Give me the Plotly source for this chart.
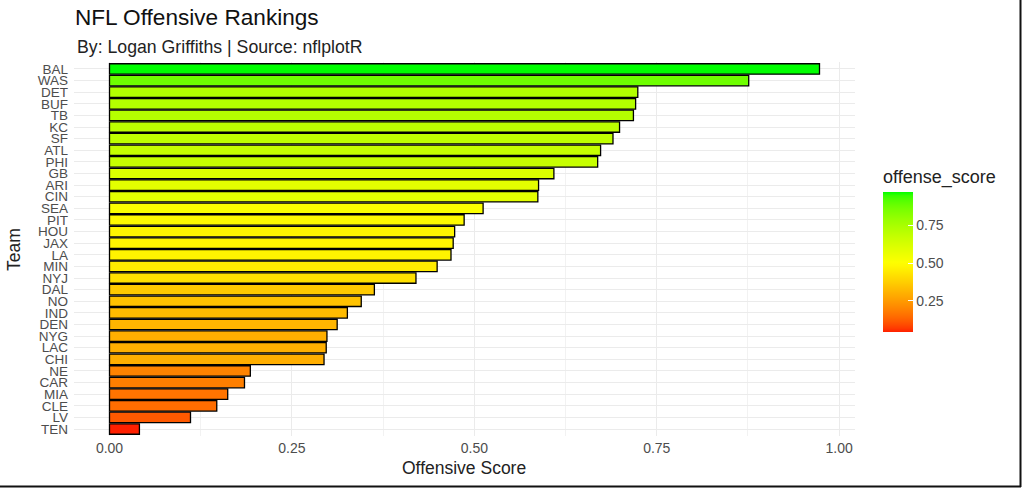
import plotly.graph_objects as go
import numpy as np

# ---- data ----
teams = ["BAL", "WAS", "DET", "BUF", "TB", "KC", "SF", "ATL", "PHI", "GB",
         "ARI", "CIN", "SEA", "PIT", "HOU", "JAX", "LA", "MIN", "NYJ", "DAL",
         "NO", "IND", "DEN", "NYG", "LAC", "CHI", "NE", "CAR", "MIA", "CLE",
         "LV", "TEN"]
offense_score = [0.973, 0.876, 0.724, 0.721, 0.718, 0.699, 0.690, 0.673, 0.669, 0.609,
                 0.588, 0.587, 0.512, 0.486, 0.473, 0.471, 0.468, 0.449, 0.420, 0.363,
                 0.345, 0.326, 0.312, 0.298, 0.297, 0.294, 0.193, 0.185, 0.162, 0.147,
                 0.111, 0.041]
x_ticks = [0.0, 0.25, 0.5, 0.75, 1.0]
x_tick_labels = ["0.00", "0.25", "0.50", "0.75", "1.00"]
cbar_ticks = [0.25, 0.5, 0.75]
cbar_tick_labels = ["0.25", "0.50", "0.75"]

# ---- gradient2 (red - yellow - green, midpoint 0.5) in Lab space ----
def srgb_to_lab(rgb):
    c = np.array(rgb, dtype=float) / 255.0
    c = np.where(c > 0.04045, ((c + 0.055) / 1.055) ** 2.4, c / 12.92)
    M = np.array([[0.4124564, 0.3575761, 0.1804375],
                  [0.2126729, 0.7151522, 0.0721750],
                  [0.0193339, 0.1191920, 0.9503041]])
    xyz = M @ c
    wp = np.array([0.95047, 1.0, 1.08883])
    f = xyz / wp
    f = np.where(f > 216 / 24389, np.cbrt(f), (24389 / 27 * f + 16) / 116)
    return np.array([116 * f[1] - 16, 500 * (f[0] - f[1]), 200 * (f[1] - f[2])])

def lab_to_srgb(lab):
    L, a, b = lab
    fy = (L + 16) / 116
    fx = fy + a / 500
    fz = fy - b / 200
    e = 216 / 24389
    k = 24389 / 27
    xr = fx ** 3 if fx ** 3 > e else (116 * fx - 16) / k
    yr = fy ** 3 if L > k * e else L / k
    zr = fz ** 3 if fz ** 3 > e else (116 * fz - 16) / k
    wp = np.array([0.95047, 1.0, 1.08883])
    xyz = np.array([xr, yr, zr]) * wp
    Minv = np.array([[3.2404542, -1.5371385, -0.4985314],
                     [-0.9692660, 1.8760108, 0.0415560],
                     [0.0556434, -0.2040259, 1.0572252]])
    c = Minv @ xyz
    c = np.clip(c, 0, 1)
    c = np.where(c > 0.0031308, 1.055 * c ** (1 / 2.4) - 0.055, 12.92 * c)
    return tuple(int(round(v * 255)) for v in np.clip(c, 0, 1))

LOW, MID, HIGH = srgb_to_lab((255, 0, 0)), srgb_to_lab((255, 255, 0)), srgb_to_lab((0, 255, 0))
vmin, vmax = min(offense_score), max(offense_score)
midpoint = 0.5
dev = max(abs(vmin - midpoint), abs(vmax - midpoint))

def colour_of(v):
    t = (v - midpoint) / dev * 0.5 + 0.5
    if t <= 0.5:
        s = t / 0.5
        lab = LOW + (MID - LOW) * s
    else:
        s = (t - 0.5) / 0.5
        lab = MID + (HIGH - MID) * s
    r, g, b = lab_to_srgb(lab)
    return f"rgb({r},{g},{b})"

colorscale = []
for p in np.linspace(0, 1, 41):
    v = vmin + p * (vmax - vmin)
    colorscale.append([float(p), colour_of(v)])

FONT = "Liberation Sans, Arial, Helvetica, sans-serif"
W, H = 1022, 488
ml, mr, mt, mb = 74, 167, 62, 52
pw, ph = W - ml - mr, H - mt - mb

def px_x(px):
    return (px - ml) / pw

def px_y(py):
    return (H - mb - py) / ph

fig = go.Figure()
fig.add_trace(go.Bar(
    x=offense_score,
    y=teams,
    orientation="h",
    width=0.9,
    marker=dict(
        color=offense_score,
        coloraxis="coloraxis",
        line=dict(color="#000000", width=1.3),
    ),
    hovertemplate="%{y}: %{x:.3f}<extra></extra>",
))

rng = vmax - 0
fig.update_layout(
    width=W, height=H,
    margin=dict(l=ml, r=mr, t=mt, b=mb, autoexpand=False),
    paper_bgcolor="white",
    plot_bgcolor="white",
    font=dict(family=FONT, color="#4D4D4D"),
    showlegend=False,
    bargap=0.1,
    title=dict(
        text="NFL Offensive Rankings",
        x=px_x(75), xref="paper", xanchor="left",
        y=1 - 17 / H, yref="container", yanchor="middle",
        font=dict(family=FONT, size=22.6, color="#111111"),
    ),
    xaxis=dict(
        range=[0 - 0.05 * rng, vmax + 0.05 * rng],
        tickvals=x_ticks,
        ticktext=x_tick_labels,
        showgrid=True, gridcolor="#EBEBEB", gridwidth=1.1,
        minor=dict(showgrid=True, gridcolor="#F2F2F2", gridwidth=0.6, dtick=0.125, tick0=0.125),
        zeroline=False, showline=False,
        ticks="", ticklen=0,
        ticklabelstandoff=2,
        tickfont=dict(family=FONT, size=14, color="#4D4D4D"),
        fixedrange=True,
    ),
    yaxis=dict(
        categoryorder="array",
        categoryarray=teams[::-1],
        tickmode="array",
        tickvals=teams,
        ticktext=teams,
        range=[-0.6, len(teams) - 0.4],
        showgrid=True, gridcolor="#EBEBEB", gridwidth=1.1,
        zeroline=False, showline=False,
        ticks="", ticklen=0,
        ticklabelstandoff=5,
        tickfont=dict(family=FONT, size=13.5, color="#4D4D4D"),
        fixedrange=True,
    ),
    coloraxis=dict(
        colorscale=colorscale,
        cmin=vmin, cmax=vmax,
        colorbar=dict(
            title=dict(text="offense_score", side="top",
                       font=dict(family=FONT, size=18, color="#222222")),
            x=px_x(883), xanchor="left", xref="paper",
            y=px_y(332), yanchor="bottom", yref="paper",
            len=166, lenmode="pixels",
            thickness=30, thicknessmode="pixels",
            outlinewidth=0,
            tickvals=cbar_ticks,
            ticktext=cbar_tick_labels,
            ticks="inside", ticklen=5, tickcolor="white", tickwidth=1,
            tickfont=dict(family=FONT, size=14, color="#4D4D4D"),
            ypad=0, xpad=0,
        ),
    ),
    annotations=[
        dict(text="By: Logan Griffiths | Source: nflplotR",
             x=px_x(75), y=px_y(47), xref="paper", yref="paper",
             xanchor="left", yanchor="middle", showarrow=False,
             font=dict(family=FONT, size=17.7, color="#222222")),
        dict(text="Offensive Score",
             x=px_x(464), y=px_y(468), xref="paper", yref="paper",
             xanchor="center", yanchor="middle", showarrow=False,
             font=dict(family=FONT, size=17.5, color="#222222")),
        dict(text="Team", textangle=-90,
             x=px_x(14), y=px_y(250), xref="paper", yref="paper",
             xanchor="center", yanchor="middle", showarrow=False,
             font=dict(family=FONT, size=17.5, color="#222222")),
    ],
    shapes=[
        dict(type="line", xref="paper", yref="paper",
             x0=px_x(1020.5), x1=px_x(1020.5), y0=px_y(0), y1=px_y(487),
             line=dict(color="#111111", width=2)),
        dict(type="line", xref="paper", yref="paper",
             x0=px_x(0), x1=px_x(1021), y0=px_y(486.5), y1=px_y(486.5),
             line=dict(color="#111111", width=2)),
    ],
)

fig.write_html(
    "out.html",
    config={"displayModeBar": False},
    post_script="document.body.style.margin='0';document.body.style.overflow='hidden';",
)
